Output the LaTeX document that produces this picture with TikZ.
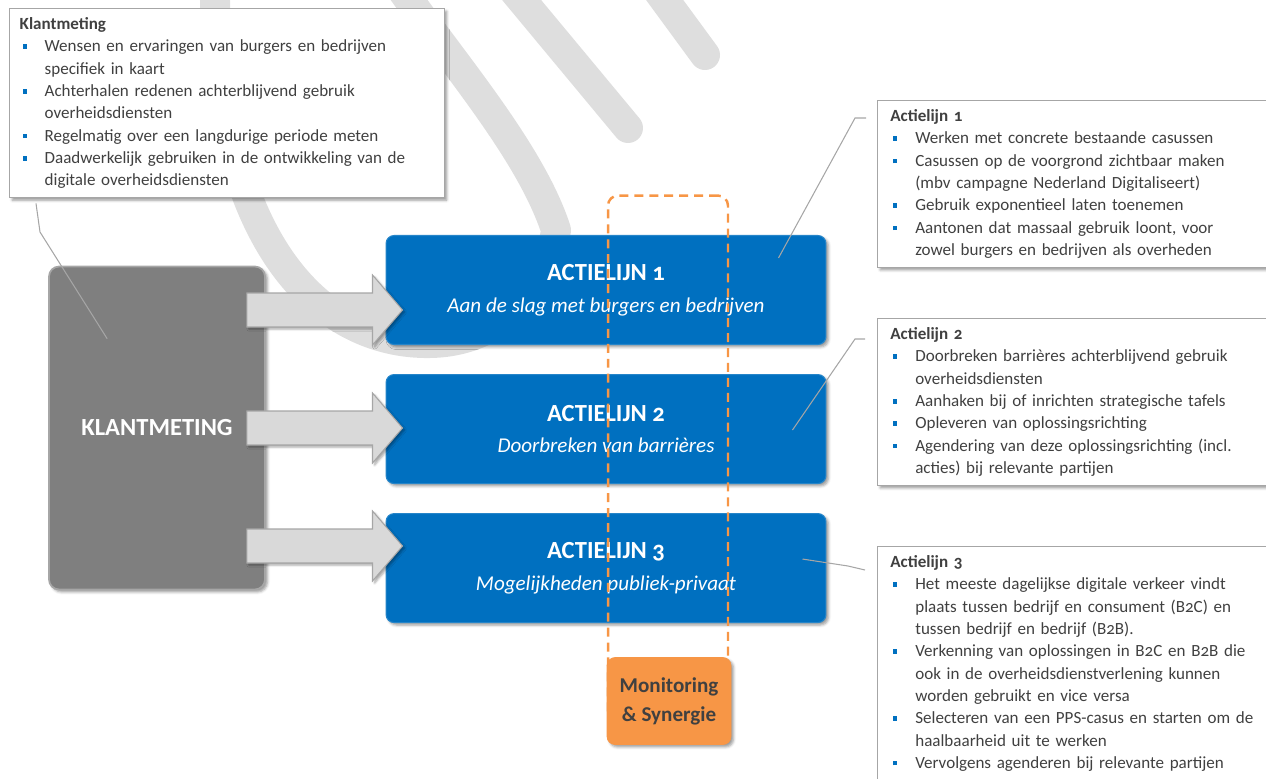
\documentclass[tikz,border=0pt]{standalone}
\usepackage{fontspec}
\setmainfont{Carlito}[Numbers=OldStyle]
\usetikzlibrary{positioning,calc,shadows.blur}

\definecolor{actblue}{RGB}{0,112,192}
\definecolor{klantgray}{RGB}{127,127,127}
\definecolor{arrowgray}{RGB}{217,217,217}
\definecolor{edgegray}{RGB}{166,166,166}
\definecolor{monorange}{RGB}{247,150,70}
\definecolor{txtgray}{RGB}{64,64,64}
\definecolor{wmgray}{RGB}{222,222,222}

% bullet line and continuation line
\newcommand{\itm}[1]{\makebox[14.2pt][l]{\hspace{1.7pt}\textcolor{actblue}{\rule[1.7pt]{2.3pt}{2.6pt}}}#1}
\newcommand{\cnt}[1]{\hspace*{14.2pt}#1}

\begin{document}
\begin{tikzpicture}[x=0.02cm,y=-0.02cm,node distance=0.58cm,
  wmark/.style={draw=wmgray,line width=0.6cm,line cap=round,line join=round},
  notebox/.style={draw=edgegray,line width=0.8pt,fill=white,anchor=north west,
    align=left,text=txtgray,inner ysep=5.1pt,font=\fontsize{9.7}{12.7}\selectfont,
    blur shadow={shadow xshift=1.4pt,shadow yshift=-1.4pt,shadow blur radius=1.5pt,shadow opacity=40}},
  klantbox/.style={fill=klantgray,draw=edgegray,line width=1pt,rounded corners=0.2cm,
    minimum width=4.32cm,minimum height=6.46cm,text=white,font=\fontsize{14}{17}\selectfont\bfseries,
    blur shadow={shadow xshift=1.4pt,shadow yshift=-1.4pt,shadow blur radius=1.5pt,shadow opacity=40}},
  actbox/.style={fill=actblue,draw=actblue!85!white,line width=0.6pt,rounded corners=0.16cm,
    minimum width=8.8cm,minimum height=2.18cm,text=white,align=center,
    font=\fontsize{12}{18}\selectfont,
    blur shadow={shadow xshift=1.4pt,shadow yshift=-1.4pt,shadow blur radius=1.5pt,shadow opacity=40}},
  monframe/.style={draw=monorange,line width=1.4pt,dash pattern=on 5.1pt off 3.4pt,
    rounded corners=0.2cm,minimum width=2.4cm,minimum height=10.5cm},
  monbox/.style={fill=monorange,draw=monorange,rounded corners=0.16cm,minimum width=2.48cm,
    minimum height=1.74cm,align=center,text=txtgray,font=\fontsize{12}{16.4}\selectfont\bfseries,
    blur shadow={shadow xshift=1.4pt,shadow yshift=-1.4pt,shadow blur radius=1.5pt,shadow opacity=40}},
  blockarrow/.style={fill=arrowgray,draw=edgegray,line width=0.6pt,
    blur shadow={shadow xshift=1.2pt,shadow yshift=-1.2pt,shadow blur radius=1.2pt,shadow opacity=35}},
  connector/.style={draw=edgegray,line width=0.6pt}]

  \useasboundingbox (0,0) rectangle (1266,778);

  % watermark
  \draw[wmark] (215,-20) .. controls (212,240) and (320,345) .. (430,343)
    .. controls (500,342) and (548,290) .. (556,230)
    .. controls (530,150) and (450,60) .. (395,-20);
  \draw[wmark] (505,-20) -- (628,128);
  \draw[wmark] (650,-20) -- (705,55);

  % notes
  \node[notebox,text width=235.9pt,inner xsep=5.7pt] (klantnote) at (9,8) {%
    \textbf{Klantmeting}\\
    \itm{Wensen en ervaringen van burgers en bedrijven}\\
    \cnt{specifiek in kaart}\\
    \itm{Achterhalen redenen achterblijvend gebruik}\\
    \cnt{overheidsdiensten}\\
    \itm{Regelmatig over een langdurige periode meten}\\
    \itm{Daadwerkelijk gebruiken in de ontwikkeling van de}\\
    \cnt{digitale overheidsdiensten}};

  \node[notebox,text width=215.5pt,inner xsep=7.2pt] (note1) at (877,100) {%
    \textbf{Actielijn 1}\\
    \itm{Werken met concrete bestaande casussen}\\
    \itm{Casussen op de voorgrond zichtbaar maken}\\
    \cnt{(mbv campagne Nederland Digitaliseert)}\\
    \itm{Gebruik exponentieel laten toenemen}\\
    \itm{Aantonen dat massaal gebruik loont, voor}\\
    \cnt{zowel burgers en bedrijven als overheden}};

  \node[notebox,text width=215.5pt,inner xsep=7.2pt] (note2) at (877,318) {%
    \textbf{Actielijn 2}\\
    \itm{Doorbreken barrières achterblijvend gebruik}\\
    \cnt{overheidsdiensten}\\
    \itm{Aanhaken bij of inrichten strategische tafels}\\
    \itm{Opleveren van oplossingsrichting}\\
    \itm{Agendering van deze oplossingsrichting (incl.}\\
    \cnt{acties) bij relevante partijen}};

  \node[notebox,text width=215.5pt,inner xsep=7.2pt] (note3) at (877,546) {%
    \textbf{Actielijn 3}\\
    \itm{Het meeste dagelijkse digitale verkeer vindt}\\
    \cnt{plaats tussen bedrijf en consument (B2C) en}\\
    \cnt{tussen bedrijf en bedrijf (B2B).}\\
    \itm{Verkenning van oplossingen in B2C en B2B die}\\
    \cnt{ook in de overheidsdienstverlening kunnen}\\
    \cnt{worden gebruikt en vice versa}\\
    \itm{Selecteren van een PPS-casus en starten om de}\\
    \cnt{haalbaarheid uit te werken}\\
    \itm{Vervolgens agenderen bij relevante partijen}};

  % main boxes
  \node[klantbox] (klant) at (157,428) {KLANTMETING};

  \node[actbox] (act1) at (606,290)
    {{\fontsize{14}{18}\selectfont\bfseries ACTIELIJN 1}\\{\itshape Aan de slag met burgers en bedrijven}};
  \node[actbox] (act2) [below=of act1]
    {{\fontsize{14}{18}\selectfont\bfseries ACTIELIJN 2}\\{\itshape Doorbreken van barrières}};
  \node[actbox] (act3) [below=of act2]
    {{\fontsize{14}{18}\selectfont\bfseries ACTIELIJN 3}\\{\itshape Mogelijkheden publiek-privaat}};

  \node[monframe] (frame) at (668,458) {};
  \node[monbox] (mon) at (669,701) {Monitoring\\\& Synergie};

  % block arrows
  \foreach \dy/\a in {-118/act1,0/act2,118/act3}{
    \coordinate (s) at ($(klant.east)+(-19,\dy)$);
    \coordinate (t) at ($(\a.west)+(17,0)$);
    \draw[blockarrow] ($(s)+(0,-17)$) -- ($(t |- s)+(-30,-17)$) -- ($(t |- s)+(-30,-35)$)
      -- (t |- s) -- ($(t |- s)+(-30,35)$) -- ($(t |- s)+(-30,17)$) -- ($(s)+(0,17)$) -- cycle;
  }

  % connectors
  \draw[connector] ($(klant.north west)+(59,73)$) -- (40,232) -- ($(klantnote.south west)+(27,5)$);
  \draw[connector] ($(act1.north east)+(-48,23)$) -- ($(note1.north west)+(-22,18)$) -- ($(note1.north west)+(-11,18)$);
  \draw[connector] ($(act2.north east)+(-34,56)$) -- ($(note2.north west)+(-22,21)$) -- ($(note2.north west)+(-12,21)$);
  \draw[connector] ($(act3.north east)+(-24,46)$) -- ($(note3.north west)+(-29,20)$) -- ($(note3.north west)+(-12,24)$);
\end{tikzpicture}
\end{document}
